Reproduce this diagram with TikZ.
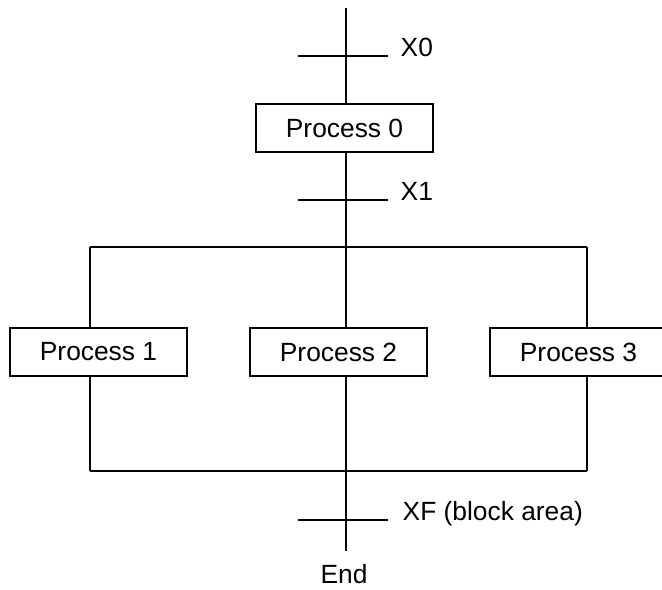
\documentclass[tikz,border=0pt]{standalone}
\usepackage{fontspec}
\setmainfont{Liberation Sans}
\usepackage{tikz}
\tikzset{
  procbox/.style={draw, line width=1.3pt, fill=white, minimum width=177*0.02cm,
    minimum height=48*0.02cm, inner sep=0pt, font=\fontsize{15}{17}\selectfont},
  lbl/.style={anchor=base west, inner sep=0pt, font=\fontsize{15}{17}\selectfont}
}
\begin{document}
\begin{tikzpicture}[x=0.02cm,y=-0.02cm,line width=0.8pt]
\useasboundingbox (0,0) rectangle (662,589);
\coordinate (top) at (346,8);
\coordinate (bot) at (346,551);
\coordinate (t0) at (346,56);
\coordinate (t1) at (346,200);
\coordinate (tf) at (346,520);
\coordinate (fl) at (90,247);
\coordinate (fr) at (587,247);
\coordinate (bl) at (90,471);
\coordinate (br) at (587,471);
\node[procbox] (p0) at (344.5,128) {Process 0};
\node[procbox] (p1) at (98.5,352) {Process 1};
\node[procbox] (p2) at (338.5,352) {Process 2};
\node[procbox] (p3) at (578.5,352) {Process 3};
\draw (top) -- (top |- p0.north);
\draw (top |- p0.south) -- (top |- p2.north);
\draw (top |- p2.south) -- (bot);
\draw (fl) -- (fr);
\draw (bl) -- (br);
\draw (fl) -- (fl |- p1.north);
\draw (fl |- p1.south) -- (bl);
\draw (fr) -- (fr |- p3.north);
\draw (fr |- p3.south) -- (br);
\draw (t0) ++(-48,0) -- ++(90,0) coordinate (e0);
\draw (t1) ++(-48,0) -- ++(90,0) coordinate (e1);
\draw (tf) ++(-48,0) -- ++(90,0) coordinate (ef);
\node[lbl] (x0) at ([xshift=12*0.02cm]e0) {X0};
\node[lbl] (x1) at ([xshift=12*0.02cm]e1) {X1};
\node[lbl] (xf) at ([xshift=14*0.02cm]ef) {XF (block area)};
\node[anchor=base, inner sep=0pt, font=\fontsize{15}{17}\selectfont] (end) at (344,583) {End};
\end{tikzpicture}
\end{document}
